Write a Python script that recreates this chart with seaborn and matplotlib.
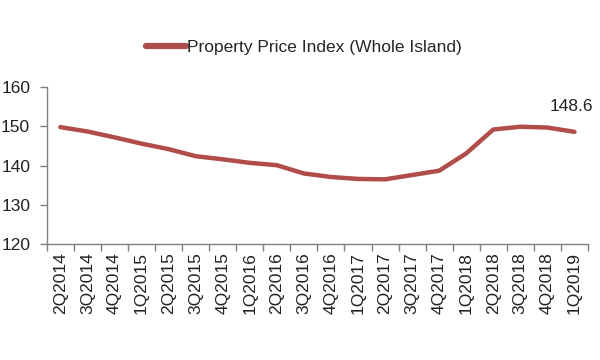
import pandas as pd
import matplotlib
matplotlib.use('Agg')
import matplotlib.pyplot as plt
import seaborn as sns

# Quarterly property price index values
quarters = ['2Q2014', '3Q2014', '4Q2014',
            '1Q2015', '2Q2015', '3Q2015', '4Q2015',
            '1Q2016', '2Q2016', '3Q2016', '4Q2016',
            '1Q2017', '2Q2017', '3Q2017', '4Q2017',
            '1Q2018', '2Q2018', '3Q2018', '4Q2018',
            '1Q2019']
index_values = [149.8, 148.7, 147.2,
                145.6, 144.2, 142.4, 141.6,
                140.7, 140.1, 138.0, 137.1,
                136.6, 136.5, 137.6, 138.7,
                143.1, 149.2, 149.9, 149.7,
                148.6]
y_ticks = [120, 130, 140, 150, 160]
series_name = 'Property Price Index (Whole Island)'

df = pd.DataFrame({'quarter': quarters, 'index': index_values})

sns.set_style('white')
plt.rcParams['font.family'] = ['Liberation Sans', 'DejaVu Sans']
fs = 12.5

fig = plt.figure(figsize=(6, 3.6), dpi=100)
ax = fig.add_axes([0.078, 0.322, 0.902, 0.436])

sns.lineplot(data=df, x='quarter', y='index', ax=ax, color='#b04d4a',
             linewidth=3.2, label=series_name, sort=False)

# Label on last point
ax.annotate(f'{index_values[-1]:.1f}', xy=(len(quarters) - 1, index_values[-1]),
            xytext=(-2, 13), textcoords='offset points', ha='center', va='bottom',
            fontsize=fs, color='#222222')

ax.set_ylim(120, 160)
ax.set_yticks(y_ticks)
ax.set_xlim(-0.5, len(quarters) - 0.5)
ax.set_xticks(range(len(quarters)))
ax.set_xticklabels(quarters, rotation=90)
ax.set_xticks([i - 0.5 for i in range(len(quarters) + 1)], minor=True)
ax.set_xlabel('')
ax.set_ylabel('')

ax.tick_params(axis='x', which='major', length=0, pad=6, labelsize=fs, labelcolor='#222222')
ax.tick_params(axis='x', which='minor', length=5, width=1, color='#808080', direction='out', bottom=True)
ax.tick_params(axis='y', length=5, width=1, color='#808080', direction='out', left=True,
               labelsize=fs, labelcolor='#222222', pad=7)

sns.despine(ax=ax)
for side in ['left', 'bottom']:
    ax.spines[side].set_color('#808080')
    ax.spines[side].set_linewidth(1)

leg = ax.legend(loc='center', bbox_to_anchor=(0.475, 1.25), frameon=False,
                fontsize=fs, handlelength=2.3, handletextpad=0.1)
for line in leg.get_lines():
    line.set_linewidth(4.5)

fig.savefig('out.png', dpi=100)
